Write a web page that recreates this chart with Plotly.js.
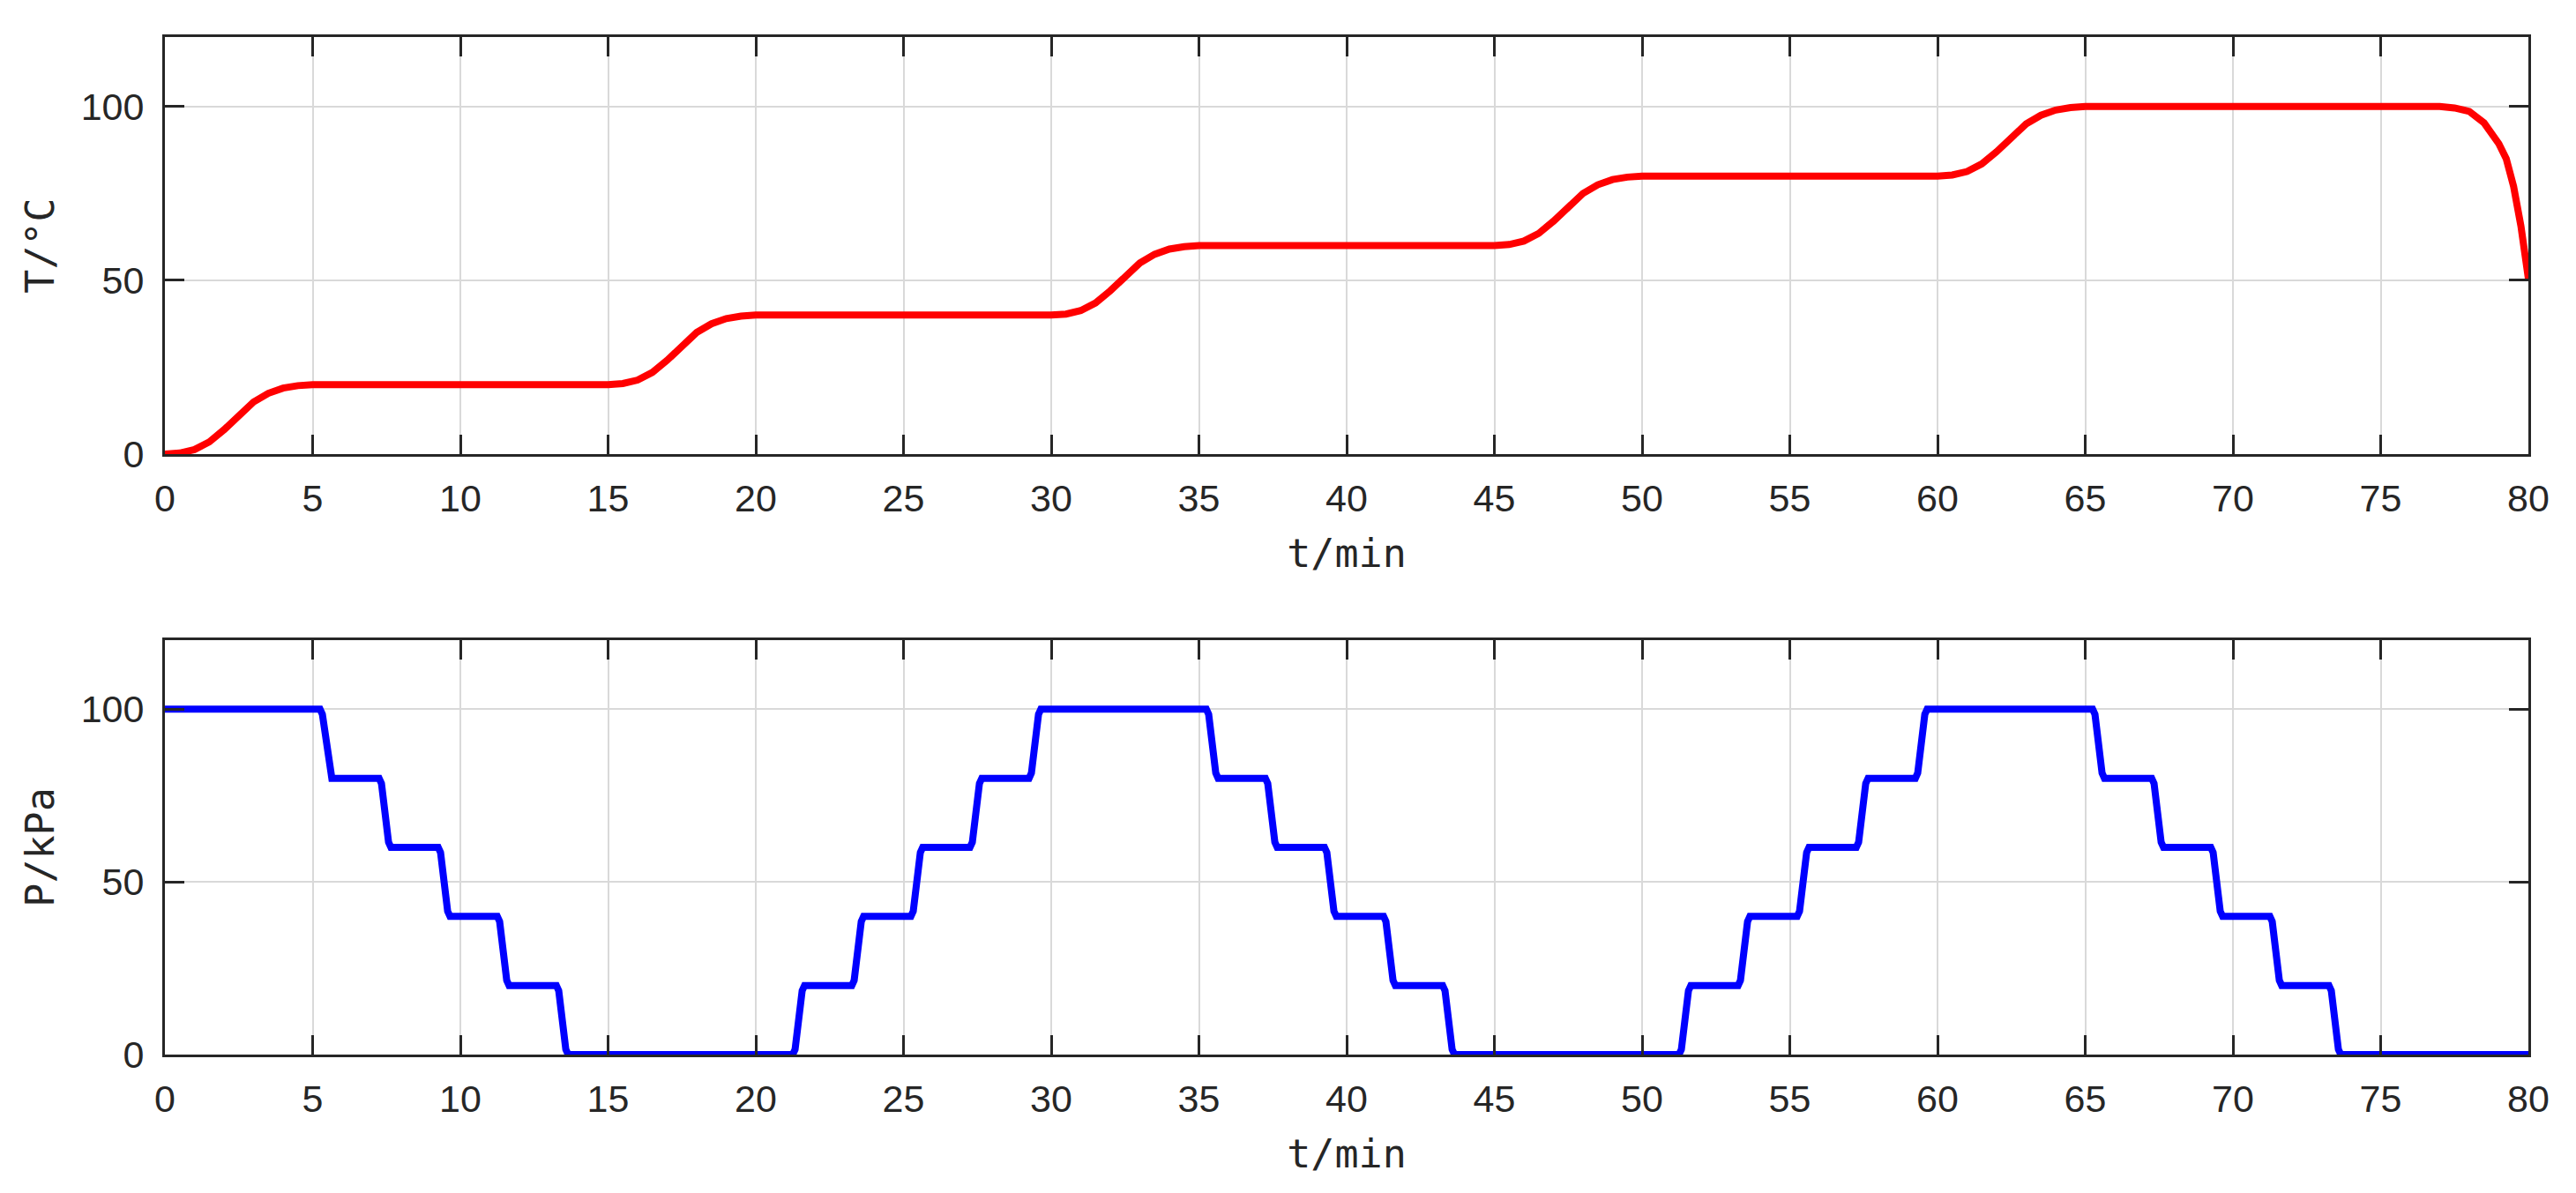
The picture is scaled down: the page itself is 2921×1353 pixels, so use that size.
<!DOCTYPE html>
<html>
<head>
<meta charset="utf-8">
<script src="https://cdn.plot.ly/plotly-3.0.1.min.js"></script>
<style>
  html, body { margin: 0; padding: 0; background: #ffffff; }
  #chart { width: 2921px; height: 1353px; }
</style>
</head>
<body>
<div id="chart"></div>
<script>
// temperature profile
const tempTime = [
  0, 0.5, 1.0, 1.5, 2.0, 2.5, 3.0, 3.5, 4.0, 4.5, 5.0,
  15, 15.5, 16, 16.5, 17, 17.5, 18, 18.5, 19, 19.5, 20,
  30, 30.5, 31, 31.5, 32, 32.5, 33, 33.5, 34, 34.5, 35,
  45, 45.5, 46, 46.5, 47, 47.5, 48, 48.5, 49, 49.5, 50,
  60, 60.5, 61, 61.5, 62, 62.5, 63, 63.5, 64, 64.5, 65,
  77, 77.5, 78, 78.5, 79, 79.25, 79.5, 79.75, 80
];
const tempValue = [
  0, 0.3, 1.3, 3.5, 7, 11, 15, 17.5, 19, 19.7, 20,
  20, 20.3, 21.3, 23.5, 27, 31, 35, 37.5, 39, 39.7, 40,
  40, 40.3, 41.3, 43.5, 47, 51, 55, 57.5, 59, 59.7, 60,
  60, 60.3, 61.3, 63.5, 67, 71, 75, 77.5, 79, 79.7, 80,
  80, 80.3, 81.3, 83.5, 87, 91, 95, 97.5, 99, 99.7, 100,
  100, 99.6, 98.6, 95.3, 89.3, 85, 77, 65.5, 50.5
];

// pressure profile
const presTime = [
  0,
  5.25, 5.33, 5.57, 5.65,   7.25, 7.33, 7.57, 7.65,   9.25, 9.33, 9.57, 9.65,
  11.25, 11.33, 11.57, 11.65,   13.25, 13.33, 13.57, 13.65,
  21.25, 21.33, 21.57, 21.65,   23.25, 23.33, 23.57, 23.65,   25.25, 25.33, 25.57, 25.65,
  27.25, 27.33, 27.57, 27.65,   29.25, 29.33, 29.57, 29.65,
  35.25, 35.33, 35.57, 35.65,   37.25, 37.33, 37.57, 37.65,   39.25, 39.33, 39.57, 39.65,
  41.25, 41.33, 41.57, 41.65,   43.25, 43.33, 43.57, 43.65,
  51.25, 51.33, 51.57, 51.65,   53.25, 53.33, 53.57, 53.65,   55.25, 55.33, 55.57, 55.65,
  57.25, 57.33, 57.57, 57.65,   59.25, 59.33, 59.57, 59.65,
  65.25, 65.33, 65.57, 65.65,   67.25, 67.33, 67.57, 67.65,   69.25, 69.33, 69.57, 69.65,
  71.25, 71.33, 71.57, 71.65,   73.25, 73.33, 73.57, 73.65,
  80
];
const presValue = [
  100,
  100, 98.5, 81.5, 80,   80, 78.5, 61.5, 60,   60, 58.5, 41.5, 40,
  40, 38.5, 21.5, 20,   20, 18.5, 1.5, 0,
  0, 1.5, 18.5, 20,   20, 21.5, 38.5, 40,   40, 41.5, 58.5, 60,
  60, 61.5, 78.5, 80,   80, 81.5, 98.5, 100,
  100, 98.5, 81.5, 80,   80, 78.5, 61.5, 60,   60, 58.5, 41.5, 40,
  40, 38.5, 21.5, 20,   20, 18.5, 1.5, 0,
  0, 1.5, 18.5, 20,   20, 21.5, 38.5, 40,   40, 41.5, 58.5, 60,
  60, 61.5, 78.5, 80,   80, 81.5, 98.5, 100,
  100, 98.5, 81.5, 80,   80, 78.5, 61.5, 60,   60, 58.5, 41.5, 40,
  40, 38.5, 21.5, 20,   20, 18.5, 1.5, 0,
  0
];

const xTicks = [0, 5, 10, 15, 20, 25, 30, 35, 40, 45, 50, 55, 60, 65, 70, 75, 80];
const yTicks = [0, 50, 100];

const AXIS_COLOR = "#262626";
const tickFont = { family: "Liberation Sans, Arial, sans-serif", size: 43, color: AXIS_COLOR };
const titleFont = { family: "DejaVu Sans Mono, monospace", size: 45, color: AXIS_COLOR };

function baseAxis() {
  return {
    showline: true,
    mirror: "ticks",
    linecolor: AXIS_COLOR,
    linewidth: 3,
    ticks: "inside",
    ticklen: 22,
    tickwidth: 3,
    tickcolor: AXIS_COLOR,
    showgrid: true,
    gridcolor: "#d9d9d9",
    gridwidth: 2,
    zeroline: false,
    tickfont: tickFont,
    fixedrange: true
  };
}

function xAxis(anchor) {
  return Object.assign(baseAxis(), {
    anchor: anchor,
    range: [0, 80],
    tickvals: xTicks,
    ticktext: xTicks.map(String),
    ticklabelstandoff: 10,
    title: { text: "t/min", font: titleFont, standoff: 24 }
  });
}

function yAxis(anchor, domain, label) {
  return Object.assign(baseAxis(), {
    anchor: anchor,
    domain: domain,
    range: [0, 120],
    tickvals: yTicks,
    ticktext: yTicks.map(String),
    ticklabelstandoff: 12,
    title: { text: label, font: titleFont, standoff: 16 }
  });
}

const traces = [
  {
    x: tempTime, y: tempValue,
    xaxis: "x", yaxis: "y",
    type: "scatter", mode: "lines",
    line: { color: "#ff0000", width: 8 },
    hoverinfo: "skip"
  },
  {
    x: presTime, y: presValue,
    xaxis: "x2", yaxis: "y2",
    type: "scatter", mode: "lines",
    line: { color: "#0000ff", width: 8 },
    hoverinfo: "skip"
  }
];

const layout = {
  width: 2921,
  height: 1353,
  margin: { l: 187, r: 54, t: 42, b: 157 },
  paper_bgcolor: "#ffffff",
  plot_bgcolor: "#ffffff",
  showlegend: false,
  xaxis: xAxis("y"),
  yaxis: yAxis("x", [0.5901, 1], "T/°C"),
  xaxis2: xAxis("y2"),
  yaxis2: yAxis("x2", [0, 0.4073], "P/kPa")
};

Plotly.newPlot("chart", traces, layout, { staticPlot: true, displayModeBar: false });
</script>
</body>
</html>
